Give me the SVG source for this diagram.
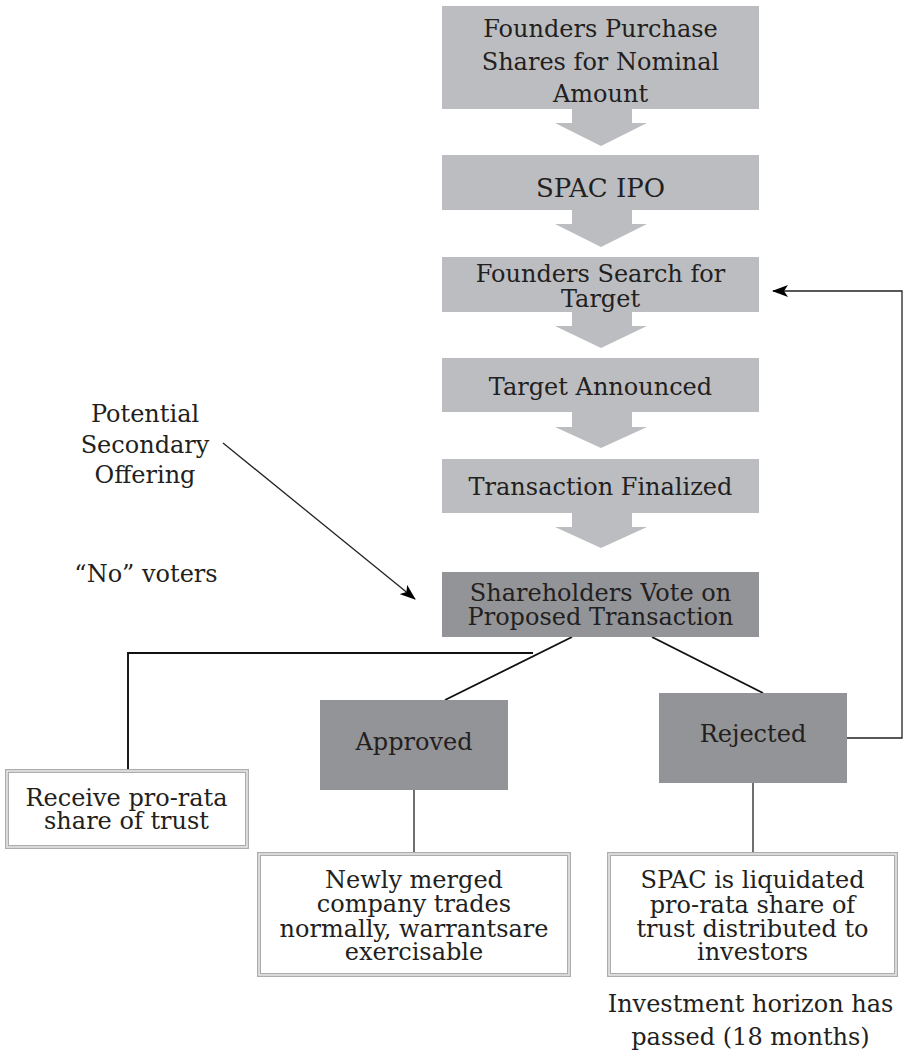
<svg xmlns="http://www.w3.org/2000/svg" width="903" height="1051" viewBox="0 0 903 1051">
<style>
  text { font-family: "DejaVu Serif", "Liberation Serif", serif; font-size: 24px; fill: #231f20; text-anchor: middle; }
  .big { font-size: 26px; }
  .light { fill: #bcbdc0; }
  .dark { fill: #939497; }
  .frame-o { fill: #ffffff; stroke: #adadad; stroke-width: 4; }
  .frame-i { fill: none; stroke: #ececec; stroke-width: 1.4; }
  .line { stroke: #111; stroke-width: 1.9; fill: none; }
  .thin { stroke: #222; stroke-width: 1.3; fill: none; }
</style>
<defs>
  <marker id="ah" markerWidth="16" markerHeight="12" refX="15" refY="6" orient="auto" markerUnits="userSpaceOnUse">
    <path d="M0,0 L16,6 L0,12 L4,6 Z" fill="#000"/>
  </marker>
</defs>

<g id="flow-arrows" class="light">
  <polygon points="572,109 632,109 632,123 647,123 601,146 555,123 572,123"/>
  <polygon points="572,210 632,210 632,224 647,224 601,247 555,224 572,224"/>
  <polygon points="572,312 632,312 632,326 647,326 601,348 555,326 572,326"/>
  <polygon points="572,412 632,412 632,427 647,427 601,448 555,427 572,427"/>
  <polygon points="572,513 632,513 632,527 647,527 601,548 555,527 572,527"/>
</g>

<g id="connectors">
  <line class="line" x1="572" y1="637" x2="445" y2="700"/>
  <line class="line" x1="652" y1="637" x2="763" y2="693"/>
  <polyline class="line" points="533,653 128,653 128,769"/>
  <polyline class="thin" points="847,738 902,738 902,291 773,291" marker-end="url(#ah)"/>
  <line class="thin" x1="414" y1="790" x2="414" y2="852"/>
  <line class="thin" x1="753" y1="783" x2="753" y2="852"/>
  <line class="thin" x1="223" y1="443" x2="415" y2="599" marker-end="url(#ah)"/>
</g>

<g id="founders-purchase">
  <rect class="light" x="442" y="6" width="317" height="103"/>
  <text x="600.5" y="37">Founders Purchase</text>
  <text x="600.5" y="70">Shares for Nominal</text>
  <text x="600.5" y="102">Amount</text>
</g>

<g id="spac-ipo">
  <rect class="light" x="442" y="155" width="317" height="55"/>
  <text class="big" x="600.5" y="197">SPAC IPO</text>
</g>

<g id="founders-search">
  <rect class="light" x="442" y="257" width="317" height="55"/>
  <text x="600.5" y="282">Founders Search for</text>
  <text x="600.5" y="307">Target</text>
</g>

<g id="target-announced">
  <rect class="light" x="442" y="358" width="317" height="54"/>
  <text x="600.5" y="395">Target Announced</text>
</g>

<g id="transaction-finalized">
  <rect class="light" x="442" y="459" width="317" height="54"/>
  <text x="600.5" y="495">Transaction Finalized</text>
</g>

<g id="shareholders-vote">
  <rect class="dark" x="442" y="572" width="317" height="65"/>
  <text x="600.5" y="601">Shareholders Vote on</text>
  <text x="600.5" y="625">Proposed Transaction</text>
</g>

<g id="approved">
  <rect class="dark" x="320" y="700" width="188" height="90"/>
  <text x="414" y="750">Approved</text>
</g>

<g id="rejected">
  <rect class="dark" x="659" y="693" width="188" height="90"/>
  <text x="753" y="742">Rejected</text>
</g>

<g id="receive-pro-rata">
  <rect class="frame-o" x="7" y="771" width="240" height="76"/>
  <rect class="frame-i" x="7" y="771" width="240" height="76"/>
  <text x="126.5" y="806">Receive pro-rata</text>
  <text x="126.5" y="829">share of trust</text>
</g>

<g id="newly-merged">
  <rect class="frame-o" x="259" y="854" width="310" height="121"/>
  <rect class="frame-i" x="259" y="854" width="310" height="121"/>
  <text x="414" y="888">Newly merged</text>
  <text x="414" y="912">company trades</text>
  <text x="414" y="937">normally, warrantsare</text>
  <text x="414" y="960">exercisable</text>
</g>

<g id="spac-liquidated">
  <rect class="frame-o" x="609" y="854" width="287" height="121"/>
  <rect class="frame-i" x="609" y="854" width="287" height="121"/>
  <text x="752.5" y="888">SPAC is liquidated</text>
  <text x="752.5" y="913">pro-rata share of</text>
  <text x="752.5" y="937">trust distributed to</text>
  <text x="752.5" y="960">investors</text>
</g>

<g id="potential-secondary">
  <text x="145" y="422">Potential</text>
  <text x="145" y="453">Secondary</text>
  <text x="145" y="483">Offering</text>
</g>

<g id="no-voters">
  <text x="146" y="582">“No” voters</text>
</g>

<g id="investment-horizon">
  <text x="750.5" y="1012">Investment horizon has</text>
  <text x="750.5" y="1045">passed (18 months)</text>
</g>
</svg>
